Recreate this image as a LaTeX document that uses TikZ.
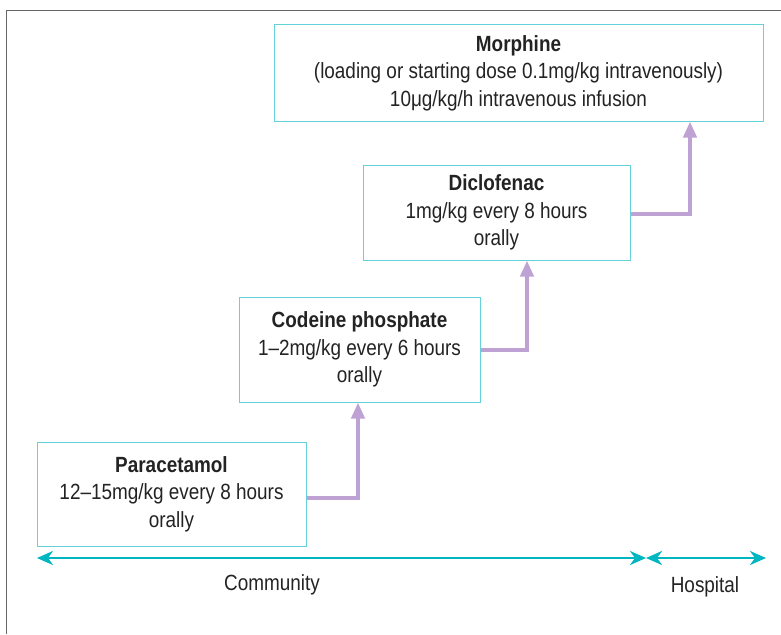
\documentclass[tikz,border=0pt]{standalone}
\usepackage{fontspec}
\setmainfont[FakeStretch=0.86]{Liberation Sans}
\usepackage{tikz}
\usetikzlibrary{arrows.meta, positioning, calc}

\definecolor{boxline}{RGB}{100,210,216}
\definecolor{stepline}{RGB}{190,162,212}
\definecolor{zoneline}{RGB}{0,182,192}
\definecolor{inktext}{RGB}{35,35,35}

\begin{document}
\begin{tikzpicture}[
    x=1pt, y=-1pt,
    drug/.style={rectangle, draw=boxline, line width=1pt, align=center, text=inktext,
        font=\fontsize{22}{27.5}\selectfont, inner sep=0pt},
    stepup/.style={-{Triangle[width=13pt,length=16pt]}, draw=stepline, line width=4pt},
    zone/.style={{Stealth[width=14pt,length=16pt,inset=5pt]}-{Stealth[width=14pt,length=16pt,inset=5pt]}, draw=zoneline, line width=2.5pt},
    zonelabel/.style={text=inktext, font=\fontsize{22}{26}\selectfont}
]
\useasboundingbox (0,0) rectangle (781,634);

% frame
\draw[gray!80!black, line width=1pt] (6,634) -- (6,11) -- (781,11);

% the four steps
\node[drug, minimum width=269pt, minimum height=104pt] (para) at (171.5,494)
    {\textbf{Paracetamol}\\12–15mg/kg every 8 hours\\orally};
\node[drug, minimum width=241pt, minimum height=105pt] (code) at (359.5,349.5)
    {\textbf{Codeine phosphate}\\1–2mg/kg every 6 hours\\orally};
\node[drug, minimum width=267pt, minimum height=95pt] (dicl) at (496.5,212.5)
    {\textbf{Diclofenac}\\1mg/kg every 8 hours\\orally};
\node[drug, minimum width=489pt, minimum height=96pt] (morph) at (518.5,73)
    {\textbf{Morphine}\\(loading or starting dose 0.1mg/kg intravenously)\\10μg/kg/h intravenous infusion};

\draw[stepup] ([yshift=-4pt]para.east) -| ([xshift=-1.5pt]code.south);
\draw[stepup] (code.east) -| ([xshift=30.5pt]dicl.south);
\draw[stepup] ([yshift=-1.5pt]dicl.east) -| ([xshift=171.5pt]morph.south);

% community / hospital
\coordinate (cleft) at (37,558);
\coordinate (cright) at (646,558);
\coordinate (hright) at (766,558);
\draw[zone] (cleft) -- (cright);
\draw[zone] (cright) -- (hright);
\node[zonelabel] (comm) at (272,585) {Community};
\node[zonelabel] (hosp) at (705,587) {Hospital};

\end{tikzpicture}
\end{document}
